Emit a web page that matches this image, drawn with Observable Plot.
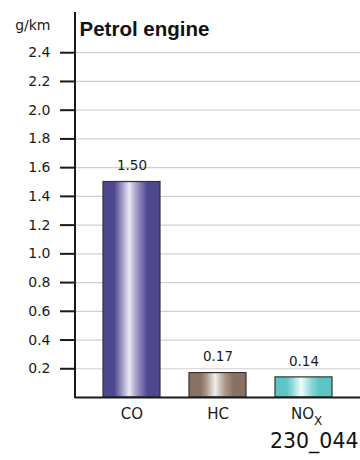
<!DOCTYPE html>
<html>
<head>
<meta charset="utf-8">
<script src="https://cdn.jsdelivr.net/npm/d3@7"></script>
<script src="https://cdn.jsdelivr.net/npm/@observablehq/plot@0.6"></script>
<style>
  html, body { margin: 0; padding: 0; background: #fff; overflow: hidden; }
  #chart svg { display: block; }
</style>
</head>
<body>
<div id="chart"></div>
<script>
// ---- data ----
const categories = ["CO", "HC", "NOx"];
const labelMain = ["CO", "HC", "NO"];
const labelSub = ["", "", "X"];
const values = [1.50, 0.17, 0.14];
const yTicks = [0.2, 0.4, 0.6, 0.8, 1.0, 1.2, 1.4, 1.6, 1.8, 2.0, 2.2, 2.4];
const yMax = 2.68;
const title = "Petrol engine";
const unit = "g/km";
const figureId = "230_044";

// ---- styles ----
const FONT = "'DejaVu Sans', sans-serif";
const TITLE_FONT = "'Liberation Sans', Arial, sans-serif";
const gradients = {
  CO:  ["#4e4890", "#8a84b8", "#bcb6d8", "#ebe9f4"],
  HC:  ["#8a7263", "#a89486", "#cfc3bb", "#f2eeec"],
  NOx: ["#5cc6c4", "#8ad8d6", "#bfeceb", "#f0fbfb"]
};
const gid = c => "grad-" + c;

const rows = categories.map((c, i) => ({cat: c, value: values[i], main: labelMain[i], sub: labelSub[i]}));

function defsMark() {
  const defs = d3.create("svg:defs");
  for (const c of categories) {
    const [edge, mid, light, top] = gradients[c];
    const g = defs.append("linearGradient").attr("id", gid(c)).attr("x1", 0).attr("x2", 1).attr("y1", 0).attr("y2", 0);
    const stops = [[0, edge], [0.2, edge], [0.3, mid], [0.38, light], [0.46, top], [0.54, light], [0.64, mid], [0.78, edge], [1, edge]];
    for (const [o, col] of stops) g.append("stop").attr("offset", o).attr("stop-color", col);
  }
  return defs.node();
}

function yAxisLine(index, scales, values, dims) {
  return d3.create("svg:line")
    .attr("x1", dims.marginLeft).attr("x2", dims.marginLeft)
    .attr("y1", scales.y(0) + 1).attr("y2", scales.y(yMax))
    .attr("stroke", "#1a1a1a").attr("stroke-width", 2).node();
}

const plot = Plot.plot({
  width: 360,
  height: 460,
  marginLeft: 75,
  marginRight: 0,
  marginTop: 12,
  marginBottom: 63,
  style: {fontFamily: FONT, color: "#1a1a1a", background: "#fff"},
  x: {domain: categories, range: [87, 347], paddingInner: 0.34, paddingOuter: 0.17, axis: null},
  y: {domain: [0, yMax], axis: null},
  color: {type: "identity"},
  marks: [
    defsMark,
    Plot.gridY(yTicks, {stroke: "#d0d0d0", strokeOpacity: 1, strokeWidth: 1.2}),
    Plot.axisY(yTicks, {tickSize: 15, tickPadding: 10, strokeWidth: 2, stroke: "#1a1a1a", tickFormat: () => "", label: null}),
    Plot.text(yTicks, {y: d => d, frameAnchor: "left", dx: -25, textAnchor: "end", text: d => d3.format(".1f")(d), fontSize: 14, fontFamily: FONT, fill: "#1a1a1a"}),
    Plot.barY(rows, {x: "cat", y: "value", fill: d => "url(#" + gid(d.cat) + ")", stroke: "#333", strokeWidth: 1.2}),
    Plot.text(rows, {x: "cat", y: "value", text: d => d3.format(".2f")(d.value), dy: -16, fontSize: 13.5, fontFamily: FONT, fill: "#1a1a1a"}),
    Plot.ruleY([0], {stroke: "#1a1a1a", strokeWidth: 2}),
    yAxisLine,
    Plot.text(rows.filter(d => !d.sub), {x: "cat", y: 0, text: "main", dy: 17, fontSize: 15, fontFamily: FONT, fill: "#1a1a1a"}),
    Plot.text(rows.filter(d => d.sub), {x: "cat", y: 0, text: "main", dy: 17, dx: 10, textAnchor: "end", fontSize: 15, fontFamily: FONT, fill: "#1a1a1a"}),
    Plot.text(rows.filter(d => d.sub), {x: "cat", y: 0, text: "sub", dy: 24, dx: 10, textAnchor: "start", fontSize: 12, fontFamily: FONT, fill: "#1a1a1a"}),
    Plot.text([title], {frameAnchor: "top-left", dx: 4, dy: 9, textAnchor: "start", fontSize: 20.5, fontWeight: "bold", fontFamily: TITLE_FONT, fill: "#111"}),
    Plot.text([unit], {frameAnchor: "top-left", dx: -25, dy: 8, textAnchor: "end", fontSize: 14, fontFamily: FONT, fill: "#1a1a1a"}),
    Plot.text([figureId], {frameAnchor: "bottom-right", dx: -2, dy: 50, textAnchor: "end", fontSize: 20.5, fontFamily: FONT, fill: "#111"})
  ]
});
document.getElementById("chart").appendChild(plot);
</script>
</body>
</html>
